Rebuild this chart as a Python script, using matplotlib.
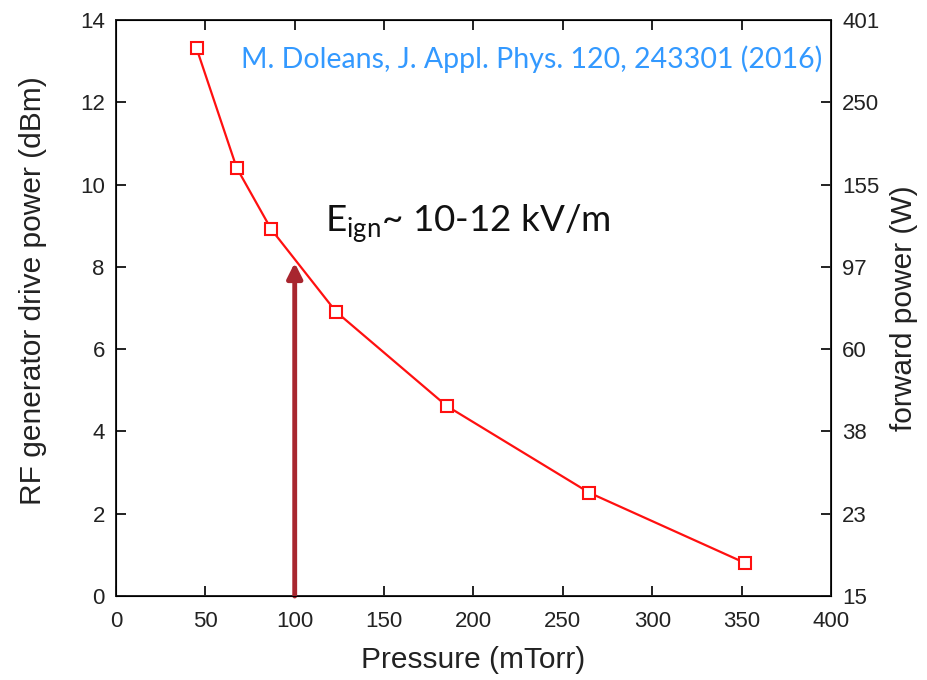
import matplotlib
matplotlib.use('Agg')
import numpy as np
import matplotlib.pyplot as plt

# ignition threshold vs. pressure
pressure = [45.1, 67.5, 86.9, 123.1, 185.0, 264.8, 352.1]      # mTorr
drive_dbm = [13.31, 10.41, 8.91, 6.91, 4.62, 2.51, 0.80]       # dBm

left_ticks = [0, 2, 4, 6, 8, 10, 12, 14]
fwd_labels = ['15', '23', '38', '60', '97', '155', '250', '401']  # W
x_ticks = [0, 50, 100, 150, 200, 250, 300, 350, 400]

arrow_x = 100
arrow_top = 8.1

plt.rcParams['font.family'] = ['Liberation Sans', 'DejaVu Sans']

fig = plt.figure(figsize=(9.27, 6.8), dpi=100)
ax = fig.add_axes([0.1251, 0.1235, 0.7713, 0.8471])

ax.plot(pressure, drive_dbm, color='#ff1010', lw=1.6, marker='s', ms=8.5,
        mfc='white', mec='#ff1010', mew=1.5, zorder=4)

ax.annotate('', xy=(arrow_x, arrow_top), xytext=(arrow_x, 0),
            arrowprops=dict(arrowstyle='-|>,head_length=0.9,head_width=0.45',
                            color='#a8262f', lw=3.5, shrinkA=0, shrinkB=0),
            zorder=3)

ax.set_xlim(0, 400)
ax.set_ylim(0, 14)
ax.set_xticks(x_ticks)
ax.set_yticks(left_ticks)
ax.tick_params(direction='in', length=7, width=1.4, labelsize=16, top=True,
               right=False, pad=8, colors='#222222')
ax.tick_params(axis='x', pad=11)
for sp in ax.spines.values():
    sp.set_linewidth(1.4)
    sp.set_color('#222222')
ax.set_xlabel('Pressure (mTorr)', fontsize=21.5, color='#222222', labelpad=10)
ax.set_ylabel('RF generator drive power (dBm)', fontsize=21.5, color='#222222')
ax.yaxis.set_label_coords(-0.097, 0.53)

ax2 = ax.twinx()
ax2.set_ylim(0, 14)
ax2.set_yticks(left_ticks)
ax2.set_yticklabels(fwd_labels)
ax2.tick_params(direction='in', length=7, width=1.4, labelsize=16, pad=8,
                colors='#222222')
ax2.set_ylabel('forward power (W)', fontsize=21.5, color='#222222', labelpad=8)

ax.text(0.988, 0.932, 'M. Doleans, J. Appl. Phys. 120, 243301 (2016)',
        transform=ax.transAxes, ha='right', va='center', fontsize=20.5,
        color='#3399ff', family=['Lato', 'DejaVu Sans'])
ax.text(117, 8.82, r'E$_\mathregular{ign}$~ 10-12 kV/m', fontsize=26.5,
        color='#111111', family=['Lato', 'DejaVu Sans'], va='baseline')

fig.savefig('out.png', dpi=100)
